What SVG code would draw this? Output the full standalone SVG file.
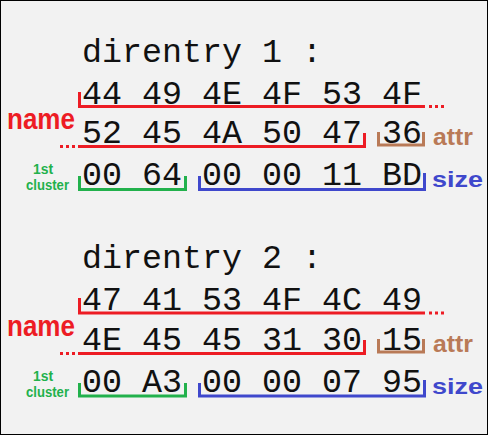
<svg xmlns="http://www.w3.org/2000/svg" width="489" height="436" viewBox="0 0 489 436">
<style>
.hex{font-family:"Liberation Mono","Courier New",monospace;font-size:33.33px;fill:#111}
.lbl{font-family:"Liberation Sans",Arial,sans-serif;font-weight:bold}
.br{fill:none;stroke-width:3;stroke-linejoin:miter;stroke-linecap:butt}
.dots{fill:none;stroke-width:3;stroke-dasharray:3 3}
.red{stroke:#ed1c24}.green{stroke:#22b14c}.blue{stroke:#3f48cc}.brown{stroke:#b97a57}
</style>
<rect x="0" y="0" width="489" height="436" fill="#ffffff"/>
<rect x="0.5" y="0.5" width="487" height="434" fill="#f2f2f2" stroke="#000" stroke-width="1"/>
<g id="entry1">
  <g id="entry1-text">
    <text class="hex" x="82" y="62" xml:space="preserve">direntry 1 :</text>
    <text class="hex" x="82" y="104">44 49 4E 4F 53 4F</text>
    <text class="hex" x="82" y="143">52 45 4A 50 47 36</text>
    <text class="hex" x="82" y="185">00 64 00 00 11 BD</text>
  </g>
  <g id="entry1-name">
    <path class="br red" d="M79.5,92 V106.5 H425"/>
    <path class="dots red" d="M429,106.5 H444"/>
    <path class="dots red" d="M60,146.5 H75"/>
    <path class="br red" d="M78,146.5 H364.5 V133"/>
    <text class="lbl" x="7" y="129" font-size="29" fill="#ed1c24" textLength="68" lengthAdjust="spacingAndGlyphs">name</text>
  </g>
  <g id="entry1-attr">
    <path class="br brown" d="M378.5,132 V145 H423.5 V132"/>
    <text class="lbl" x="433" y="145" font-size="23" fill="#b97a57" textLength="40" lengthAdjust="spacingAndGlyphs">attr</text>
  </g>
  <g id="entry1-cluster">
    <path class="br green" d="M79.5,176 V189.5 H185.5 V176"/>
    <text class="lbl" x="33" y="174" font-size="14" fill="#22b14c" textLength="20" lengthAdjust="spacingAndGlyphs">1st</text>
    <text class="lbl" x="26" y="190" font-size="14" fill="#22b14c" textLength="43" lengthAdjust="spacingAndGlyphs">cluster</text>
  </g>
  <g id="entry1-size">
    <path class="br blue" d="M199.5,176 V189.5 H424.5 V173"/>
    <text class="lbl" x="432" y="187" font-size="22" fill="#3f48cc" textLength="51" lengthAdjust="spacingAndGlyphs">size</text>
  </g>
</g>
<g id="entry2">
  <g id="entry2-text">
    <text class="hex" x="82" y="268" xml:space="preserve">direntry 2 :</text>
    <text class="hex" x="82" y="310">47 41 53 4F 4C 49</text>
    <text class="hex" x="82" y="350">4E 45 45 31 30 15</text>
    <text class="hex" x="82" y="392">00 A3 00 00 07 95</text>
  </g>
  <g id="entry2-name">
    <path class="br red" d="M79.5,298 V313 H425"/>
    <path class="dots red" d="M429,313 H444"/>
    <path class="dots red" d="M60,353.5 H75"/>
    <path class="br red" d="M78,353.5 H364.5 V340"/>
    <text class="lbl" x="7" y="336" font-size="29" fill="#ed1c24" textLength="68" lengthAdjust="spacingAndGlyphs">name</text>
  </g>
  <g id="entry2-attr">
    <path class="br brown" d="M378.5,339 V352 H423.5 V339"/>
    <text class="lbl" x="433" y="352" font-size="23" fill="#b97a57" textLength="40" lengthAdjust="spacingAndGlyphs">attr</text>
  </g>
  <g id="entry2-cluster">
    <path class="br green" d="M79.5,383 V396 H185.5 V383"/>
    <text class="lbl" x="33" y="381" font-size="14" fill="#22b14c" textLength="20" lengthAdjust="spacingAndGlyphs">1st</text>
    <text class="lbl" x="26" y="397" font-size="14" fill="#22b14c" textLength="43" lengthAdjust="spacingAndGlyphs">cluster</text>
  </g>
  <g id="entry2-size">
    <path class="br blue" d="M199.5,383 V396 H424.5 V380"/>
    <text class="lbl" x="432" y="394" font-size="22" fill="#3f48cc" textLength="51" lengthAdjust="spacingAndGlyphs">size</text>
  </g>
</g>
</svg>
